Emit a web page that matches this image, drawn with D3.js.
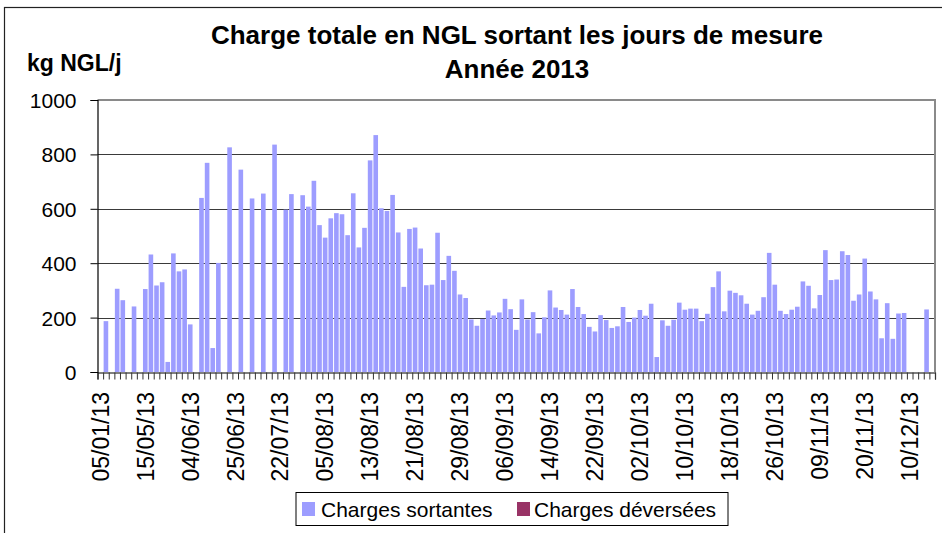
<!DOCTYPE html>
<html>
<head>
<meta charset="utf-8">
<script src="https://cdn.jsdelivr.net/npm/d3@7/dist/d3.min.js"></script>
<style>
  html, body { margin: 0; padding: 0; background: #fff; }
  svg { display: block; }
  text { font-family: "Liberation Sans", Arial, sans-serif; fill: #000; }
</style>
</head>
<body>
<svg id="chart" width="942" height="533"></svg>
<script>
// ---- DATA ----
const titleLines = ["Charge totale en NGL sortant les jours de mesure", "Année 2013"];
const yAxisTitle = "kg NGL/j";
const seriesNames = ["Charges sortantes", "Charges déversées"];
const categoryCount = 149; // measurement days
// tick labels shown every 8th measurement day
const tickLabels = ["05/01/13","15/05/13","04/06/13","25/06/13","22/07/13","05/08/13","13/08/13",
  "21/08/13","29/08/13","06/09/13","14/09/13","22/09/13","02/10/13","10/10/13","18/10/13",
  "26/10/13","09/11/13","20/11/13","10/12/13"];
const tickLabelStep = 8;
const yTicks = [0, 200, 400, 600, 800, 1000];
// Charges sortantes (kg NGL/j), null = no measurement
const chargesSortantes = [
  null,187,null,306,264,null,241,null,305,432,
  318,330,37,436,370,377,175,null,640,769,
  88,401,null,826,null,744,null,638,null,656,
  null,836,null,597,654,null,650,608,703,540,
  494,565,584,580,503,657,458,530,778,871,
  602,592,651,513,313,526,531,454,319,321,
  512,338,427,372,285,272,193,170,195,226,
  208,219,269,231,155,267,193,220,142,201,
  300,237,228,211,305,239,213,166,149,209,
  191,162,168,239,184,200,228,207,251,55,
  190,170,192,255,229,233,233,187,214,312,
  370,223,299,291,282,251,211,225,275,438,
  321,225,213,229,240,333,317,234,283,448,
  338,340,444,430,262,285,417,296,267,124,
  253,122,215,217,null,null,null,230,null
];
// Charges déversées: no values on the measurement days
const chargesDeversees = [];
const colors = ["#9d9dff", "#993366"];

// ---- LAYOUT ----
const svg = d3.select("#chart");
const plot = { left: 97.5, right: 935, top: 100, bottom: 372 };

const idx = d3.range(categoryCount);
const x = d3.scaleBand().domain(idx).range([plot.left, plot.right]).paddingInner(0.18).paddingOuter(0.09);
const xEdge = d3.scaleLinear().domain([0, categoryCount]).range([plot.left, plot.right]);
const y = d3.scaleLinear().domain([0, 1000]).range([plot.bottom, plot.top]);

// outer frame
svg.append("rect").attr("x", 4.5).attr("y", 7.5).attr("width", 960).attr("height", 560)
  .attr("fill", "none").attr("stroke", "#222").attr("stroke-width", 1.2);

// gridlines
svg.append("g").selectAll("line").data(yTicks.filter(v => v > 0 && v < 1000)).join("line")
  .attr("x1", plot.left).attr("x2", plot.right)
  .attr("y1", d => Math.round(y(d)) + 0.5).attr("y2", d => Math.round(y(d)) + 0.5)
  .attr("stroke", "#3a3a3a").attr("stroke-width", 1);

// plot frame top/right (gray)
svg.append("path")
  .attr("d", `M${plot.left},${plot.top}H${plot.right}V${plot.bottom}`)
  .attr("fill", "none").attr("stroke", "#8a8a8a").attr("stroke-width", 2);

// bars
svg.append("g").selectAll("rect")
  .data(idx.filter(i => chargesSortantes[i] != null))
  .join("rect")
  .attr("x", i => x(i))
  .attr("width", x.bandwidth())
  .attr("y", i => y(chargesSortantes[i]))
  .attr("height", i => y(0) - y(chargesSortantes[i]))
  .attr("fill", colors[0]);

// x axis: ticks at category boundaries
const xAxisTicks = d3.axisBottom(xEdge).tickValues(d3.range(categoryCount + 1)).tickSize(7).tickFormat("");
const gx = svg.append("g").attr("transform", `translate(0,${plot.bottom + 0.5})`).call(xAxisTicks);
gx.select(".domain").attr("stroke", "#000").attr("stroke-width", 1.2);
gx.selectAll(".tick line").attr("stroke", "#333").attr("stroke-width", 1);

// x labels (rotated)
const labelIdx = tickLabels.map((_, k) => k * tickLabelStep);
svg.append("g").selectAll("text").data(labelIdx).join("text")
  .attr("transform", i => `translate(${x(i) + x.bandwidth() / 2 + 8.3},392) rotate(-90)`)
  .attr("text-anchor", "end")
  .attr("font-size", 23)
  .text((i, k) => tickLabels[k]);

// y axis
const yAxis = d3.axisLeft(y).tickValues(yTicks).tickSize(7).tickPadding(14).tickFormat(d3.format("d"));
const gy = svg.append("g").attr("transform", `translate(${plot.left},0)`).call(yAxis);
gy.select(".domain").attr("stroke", "#000").attr("stroke-width", 1.2);
gy.selectAll(".tick line").attr("stroke", "#000");
gy.selectAll(".tick text").attr("font-size", 21).attr("font-family", "'Liberation Sans', Arial, sans-serif")
  .attr("fill", "#000").attr("dy", "0.36em").attr("x", -21);

// titles
svg.append("text").attr("x", 517).attr("y", 44).attr("text-anchor", "middle")
  .attr("font-size", 26).attr("font-weight", "bold").text(titleLines[0]);
svg.append("text").attr("x", 517).attr("y", 78).attr("text-anchor", "middle")
  .attr("font-size", 26).attr("font-weight", "bold").text(titleLines[1]);
svg.append("text").attr("x", 27).attr("y", 71)
  .attr("font-size", 23).attr("font-weight", "bold").text(yAxisTitle);

// legend
const lg = svg.append("g");
lg.append("rect").attr("x", 296).attr("y", 492.5).attr("width", 432).attr("height", 33)
  .attr("fill", "#fff").attr("stroke", "#000").attr("stroke-width", 1);
const legendItems = [
  { name: seriesNames[0], color: colors[0], sx: 302, tx: 321 },
  { name: seriesNames[1], color: colors[1], sx: 517, tx: 534 }
];
legendItems.forEach(d => {
  lg.append("rect").attr("x", d.sx).attr("y", 502).attr("width", 13).attr("height", 14).attr("fill", d.color);
  lg.append("text").attr("x", d.tx).attr("y", 516.5).attr("font-size", 21).text(d.name);
});
</script>
</body>
</html>
